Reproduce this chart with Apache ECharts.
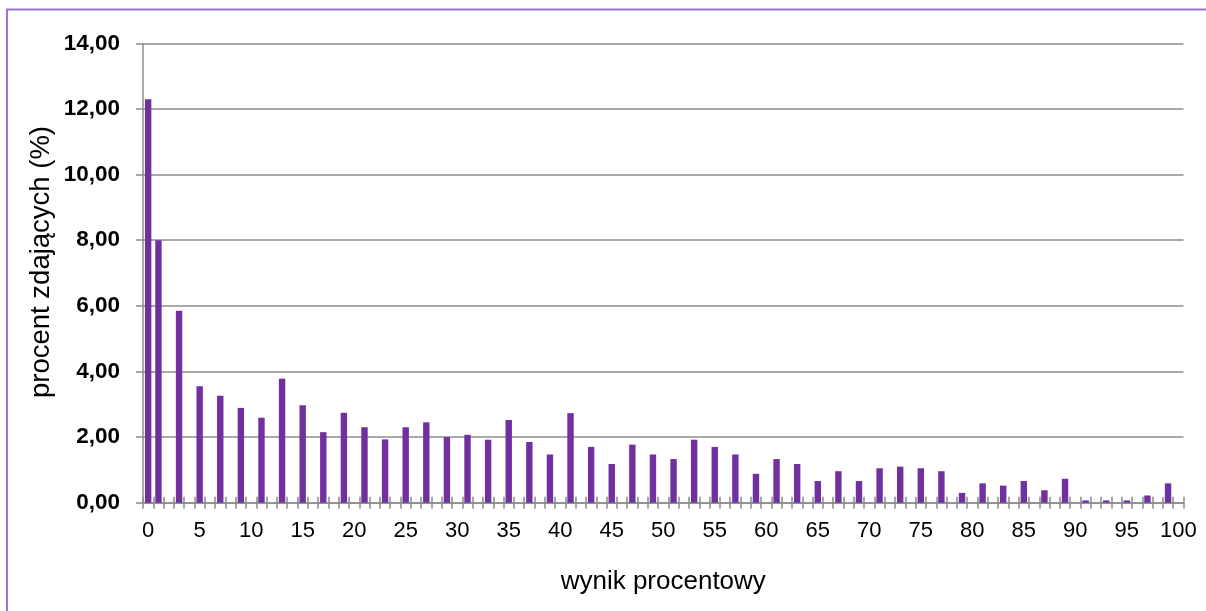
<!DOCTYPE html>
<html>
<head>
<meta charset="utf-8">
<script src="https://cdn.jsdelivr.net/npm/echarts@6/dist/echarts.min.js"></script>
<style>
html,body{margin:0;padding:0;background:#fff;}
#chart{width:1206px;height:611px;}
</style>
</head>
<body>
<div id="chart"></div>
<script>
// Category labels along the x axis (wynik procentowy 0..100)
const categories = ["0","1","2","3","4","5","6","7","8","9","10","11","12","13","14","15","16","17","18","19","20","21","22","23","24","25","26","27","28","29","30","31","32","33","34","35","36","37","38","39","40","41","42","43","44","45","46","47","48","49","50","51","52","53","54","55","56","57","58","59","60","61","62","63","64","65","66","67","68","69","70","71","72","73","74","75","76","77","78","79","80","81","82","83","84","85","86","87","88","89","90","91","92","93","94","95","96","97","98","99","100"];
// Scores that have a bar
const scores = [0,1,3,5,7,9,11,13,15,17,19,21,23,25,27,29,31,33,35,37,39,41,43,45,47,49,51,53,55,57,59,61,63,65,67,69,71,73,75,77,79,81,83,85,87,89,91,93,95,97,99];
// Percent of students (%)
const percents = [12.30,8.00,5.85,3.55,3.26,2.89,2.59,3.78,2.97,2.15,2.74,2.30,1.93,2.30,2.45,2.00,2.07,1.92,2.52,1.85,1.47,2.73,1.70,1.18,1.77,1.47,1.33,1.92,1.70,1.47,0.88,1.33,1.18,0.66,0.96,0.66,1.05,1.10,1.05,0.96,0.30,0.59,0.52,0.66,0.38,0.73,0.07,0.07,0.07,0.22,0.59];
// y tick values
const yTicks = [0,2,4,6,8,10,12,14];
const xTitle = 'wynik procentowy';
const yTitle = 'procent zdających (%)';

const FONT = '"Liberation Sans", Arial, sans-serif';
const GRAY = '#8c8c8c';

const barData = scores.map((s, i) => [String(s), percents[i]]);

const chart = echarts.init(document.getElementById('chart'), null, {renderer: 'canvas'});
chart.setOption({
  animation: false,
  backgroundColor: '#ffffff',
  graphic: [{
    type: 'rect',
    shape: {x: 7, y: 9.5, width: 1230, height: 640},
    style: {fill: 'none', stroke: '#9d74cc', lineWidth: 2},
    silent: true
  }, {
    type: 'text',
    x: 41, y: 262,
    rotation: Math.PI / 2,
    style: {text: yTitle, fontSize: 27.5, fill: '#000', fontFamily: FONT, textAlign: 'center', textVerticalAlign: 'middle'},
    silent: true
  }],
  grid: {left: 143, right: 22.5, top: 43.4, bottom: 108.3, containLabel: false},
  xAxis: [{
    type: 'category',
    data: categories,
    boundaryGap: true,
    name: xTitle,
    nameLocation: 'middle',
    nameGap: 66,
    nameTextStyle: {fontSize: 26, color: '#000', fontFamily: FONT},
    axisLine: {show: true, lineStyle: {color: GRAY, width: 1.5}},
    axisTick: {show: true, interval: 0, length: 6, lineStyle: {color: GRAY, width: 1.5}},
    axisLabel: {interval: 4, fontSize: 22, color: '#000', fontFamily: FONT, margin: 17},
    splitLine: {show: false}
  }, {
    type: 'category',
    data: categories,
    position: 'bottom',
    boundaryGap: true,
    axisLine: {show: false},
    axisTick: {show: true, inside: true, interval: 0, length: 6, lineStyle: {color: GRAY, width: 1.5}},
    axisLabel: {show: false},
    splitLine: {show: false}
  }],
  yAxis: {
    type: 'value',
    min: yTicks[0],
    max: yTicks[yTicks.length - 1],
    interval: 2,
    axisLine: {show: true, lineStyle: {color: GRAY, width: 1.5}},
    axisTick: {show: true, length: 7, lineStyle: {color: GRAY, width: 1.5}},
    axisLabel: {
      fontSize: 22.5, fontWeight: 'bold', color: '#000', fontFamily: FONT, margin: 23,
      formatter: v => v.toFixed(2).replace('.', ',')
    },
    splitLine: {show: true, lineStyle: {color: GRAY, width: 1.5}}
  },
  series: [{
    type: 'bar',
    xAxisIndex: 0,
    data: barData,
    barWidth: 6.4,
    itemStyle: {color: '#7030a0'}
  }]
});
</script>
</body>
</html>
